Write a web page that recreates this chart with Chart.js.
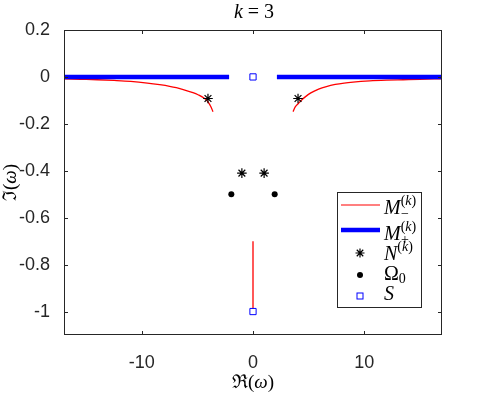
<!DOCTYPE html>
<html>
<head>
<meta charset="utf-8">
<script src="https://cdn.jsdelivr.net/npm/chart.js@4"></script>
<style>
  html, body { margin: 0; padding: 0; background: #fff; }
  canvas { display: block; }
</style>
</head>
<body>
<canvas id="chart" width="490" height="393"></canvas>
<script>
// axis ticks
var xTicks = [-10, 0, 10];
var xTickLabels = ['-10', '0', '10'];
var yTicks = [-1, -0.8, -0.6, -0.4, -0.2, 0, 0.2];
var yTickLabels = ['-1', '-0.8', '-0.6', '-0.4', '-0.2', '0', '0.2'];

// M_-^(k) branches (red)
var mMinusLeftRe  = [-17, -15.5, -14, -12.5, -11, -9.5, -8.4, -7.5, -6.9, -6.2, -5.4, -4.9, -4.5, -4.2, -4.0, -3.8, -3.6];
var mMinusLeftIm  = [-0.008, -0.010, -0.012, -0.015, -0.019, -0.026, -0.033, -0.040, -0.046, -0.055, -0.067, -0.077, -0.087, -0.098, -0.110, -0.126, -0.148];
var mMinusRightRe = [3.6, 3.8, 4.1, 4.4, 4.7, 5.2, 5.9, 6.6, 7.4, 8.2, 9.0, 10.5, 12, 13.5, 15, 17];
var mMinusRightIm = [-0.148, -0.128, -0.112, -0.097, -0.085, -0.068, -0.052, -0.041, -0.032, -0.026, -0.022, -0.017, -0.014, -0.012, -0.010, -0.008];
var mMinusVertRe  = [0, 0];
var mMinusVertIm  = [-0.7, -1];

// M_+^(k) (blue, on the real axis)
var mPlusLeftRe  = [-17, -2.15];
var mPlusLeftIm  = [0, 0];
var mPlusRightRe = [2.15, 17];
var mPlusRightIm = [0, 0];

// N^(k), Omega_0, S
var nRe = [-4.05, 4.05, -1.0, 1.0];
var nIm = [-0.092, -0.092, -0.41, -0.41];
var omegaRe = [-1.95, 1.95];
var omegaIm = [-0.5, -0.5];
var sRe = [0, 0];
var sIm = [0, -1];

function pts(xs, ys) {
    return xs.map(function(x, i) { return { x: x, y: ys[i] }; });
}

var AX = '#262626';
var SERIF = '"Liberation Serif", "DejaVu Serif", serif';

function drawRuns(ctx, runs, x, y, align) {
    var total = 0;
    runs.forEach(function(r) { ctx.font = r.font; r.w = ctx.measureText(r.t).width; total += r.w + (r.gap || 0); });
    var cx = align === 'center' ? x - total / 2 : x;
    runs.forEach(function(r) {
        ctx.font = r.font;
        ctx.fillText(r.t, cx + (r.dx || 0), y + (r.dy || 0));
        cx += r.w + (r.gap || 0);
    });
}

function drawStar(ctx, x, y, r) {
    var d = r * 0.72;
    ctx.beginPath();
    ctx.moveTo(x - r, y); ctx.lineTo(x + r, y);
    ctx.moveTo(x, y - r); ctx.lineTo(x, y + r);
    ctx.moveTo(x - d, y - d); ctx.lineTo(x + d, y + d);
    ctx.moveTo(x - d, y + d); ctx.lineTo(x + d, y - d);
    ctx.stroke();
}

var decor = {
    id: 'decor',
    afterDraw: function(chart) {
        var ctx = chart.ctx;
        var a = chart.chartArea;
        var xs = chart.scales.x, ys = chart.scales.y;
        ctx.save();
        ctx.strokeStyle = AX;
        ctx.lineWidth = 1;
        ctx.strokeRect(Math.round(a.left) + 0.5, Math.round(a.top) + 0.5,
                       Math.round(a.right - a.left) - 1, Math.round(a.bottom - a.top) - 1);
        ctx.beginPath();
        xTicks.forEach(function(v) {
            var px = Math.round(xs.getPixelForValue(v)) + 0.5;
            ctx.moveTo(px, a.bottom); ctx.lineTo(px, a.bottom - 4);
            ctx.moveTo(px, a.top); ctx.lineTo(px, a.top + 4);
        });
        yTicks.forEach(function(v) {
            var py = Math.round(ys.getPixelForValue(v)) + 0.5;
            ctx.moveTo(a.left, py); ctx.lineTo(a.left + 4, py);
            ctx.moveTo(a.right, py); ctx.lineTo(a.right - 4, py);
        });
        ctx.stroke();

        // title and axis labels
        ctx.fillStyle = '#000';
        ctx.textBaseline = 'middle';
        var cxp = (a.left + a.right) / 2;
        drawRuns(ctx, [
            { t: 'k', font: 'italic 20px ' + SERIF },
            { t: ' = 3', font: '20px ' + SERIF }
        ], cxp + 1, 13, 'center');
        drawRuns(ctx, [
            { t: '\u211C', font: '19px ' + SERIF },
            { t: '(', font: '19px ' + SERIF },
            { t: '\u03C9', font: 'italic 19px ' + SERIF },
            { t: ')', font: '19px ' + SERIF }
        ], cxp, 383, 'center');
        ctx.save();
        ctx.translate(11, (a.top + a.bottom) / 2);
        ctx.rotate(-Math.PI / 2);
        drawRuns(ctx, [
            { t: '\u2111', font: '19px ' + SERIF },
            { t: '(', font: '19px ' + SERIF },
            { t: '\u03C9', font: 'italic 19px ' + SERIF },
            { t: ')', font: '19px ' + SERIF }
        ], 0, 0, 'center');
        ctx.restore();

        // legend
        var lx = 337.5, ly = 192.5, lw = 84, lh = 115;
        ctx.fillStyle = '#fff';
        ctx.fillRect(lx, ly, lw, lh);
        ctx.strokeStyle = AX;
        ctx.lineWidth = 1;
        ctx.strokeRect(lx, ly, lw, lh);

        var symX0 = 341, symX1 = 380, symC = 360, tx = 384;
        ctx.strokeStyle = '#ff0000'; ctx.lineWidth = 1.2;
        ctx.beginPath(); ctx.moveTo(symX0, 205); ctx.lineTo(symX1, 205); ctx.stroke();
        ctx.strokeStyle = '#0000ff'; ctx.lineWidth = 4.5;
        ctx.beginPath(); ctx.moveTo(symX0, 230); ctx.lineTo(symX1, 230); ctx.stroke();
        ctx.strokeStyle = '#000'; ctx.lineWidth = 1.2;
        drawStar(ctx, symC, 253, 4.5);
        ctx.fillStyle = '#000';
        ctx.beginPath(); ctx.arc(symC, 275, 3, 0, Math.PI * 2); ctx.fill();
        ctx.strokeStyle = '#0000ff'; ctx.lineWidth = 1;
        ctx.strokeRect(symC - 3, 293, 6, 6);

        ctx.fillStyle = '#000';
        ctx.textBaseline = 'alphabetic';
        var big = 'italic 20px ' + SERIF, sm = '14px ' + SERIF, smi = 'italic 14px ' + SERIF;
        drawRuns(ctx, [
            { t: 'M', font: big, gap: 0 },
            { t: '(', font: sm, dy: -9 },
            { t: 'k', font: smi, dy: -9 },
            { t: ')', font: sm, dy: -9 }
        ], tx, 214, 'left');
        ctx.font = sm; ctx.fillText('\u2212', 401, 218);
        drawRuns(ctx, [
            { t: 'M', font: big },
            { t: '(', font: sm, dy: -9 },
            { t: 'k', font: smi, dy: -9 },
            { t: ')', font: sm, dy: -9 }
        ], tx, 240, 'left');
        ctx.font = sm; ctx.fillText('+', 401, 244);
        drawRuns(ctx, [
            { t: 'N', font: big },
            { t: '(', font: sm, dy: -9 },
            { t: 'k', font: smi, dy: -9 },
            { t: ')', font: sm, dy: -9 }
        ], tx, 260, 'left');
        drawRuns(ctx, [
            { t: '\u03A9', font: '20px ' + SERIF },
            { t: '0', font: sm, dy: 3 }
        ], tx, 280, 'left');
        drawRuns(ctx, [{ t: 'S', font: big }], tx, 300, 'left');
        ctx.restore();
    }
};

var ctx = document.getElementById('chart').getContext('2d');
new Chart(ctx, {
    type: 'scatter',
    data: {
        datasets: [
            { label: 'S', data: pts(sRe, sIm), order: 0, pointStyle: 'rect', pointRadius: 4.4,
              borderColor: '#0000ff', backgroundColor: '#ffffff', borderWidth: 1 },
            { label: 'Omega0', data: pts(omegaRe, omegaIm), order: 1, pointStyle: 'circle', pointRadius: 3,
              borderColor: '#000', backgroundColor: '#000', borderWidth: 0 },
            { label: 'N', data: pts(nRe, nIm), order: 2, pointStyle: 'star', pointRadius: 4.8,
              borderColor: '#000', backgroundColor: '#000', borderWidth: 1.2 },
            { label: 'M+ left', data: pts(mPlusLeftRe, mPlusLeftIm), order: 3, showLine: true, pointRadius: 0,
              borderColor: '#0000ff', borderWidth: 4.5, borderCapStyle: 'butt' },
            { label: 'M+ right', data: pts(mPlusRightRe, mPlusRightIm), order: 3, showLine: true, pointRadius: 0,
              borderColor: '#0000ff', borderWidth: 4.5, borderCapStyle: 'butt' },
            { label: 'M- left', data: pts(mMinusLeftRe, mMinusLeftIm), order: 4, showLine: true, pointRadius: 0,
              borderColor: '#ff0000', borderWidth: 1.3, cubicInterpolationMode: 'monotone' },
            { label: 'M- right', data: pts(mMinusRightRe, mMinusRightIm), order: 4, showLine: true, pointRadius: 0,
              borderColor: '#ff0000', borderWidth: 1.3, cubicInterpolationMode: 'monotone' },
            { label: 'M- vert', data: pts(mMinusVertRe, mMinusVertIm), order: 4, showLine: true, pointRadius: 0,
              borderColor: '#ff0000', borderWidth: 1.3 }
        ]
    },
    options: {
        responsive: false,
        animation: false,
        devicePixelRatio: 1,
        layout: { padding: { left: 0, right: 48, top: 30, bottom: 0 } },
        plugins: { legend: { display: false }, tooltip: { enabled: false }, title: { display: false } },
        scales: {
            x: {
                type: 'linear', min: -17, max: 17,
                grid: { display: false }, border: { display: false },
                afterFit: function(s) { s.height = 58; },
                afterBuildTicks: function(s) { s.ticks = xTicks.map(function(v) { return { value: v }; }); },
                ticks: {
                    color: AX, padding: 9, maxRotation: 0,
                    font: { family: '"Liberation Sans", Arial, sans-serif', size: 18 },
                    callback: function(v) { return xTickLabels[xTicks.indexOf(v)]; }
                }
            },
            y: {
                type: 'linear', min: -1.1, max: 0.2,
                grid: { display: false }, border: { display: false },
                afterFit: function(s) { s.width = 64; },
                afterBuildTicks: function(s) { s.ticks = yTicks.map(function(v) { return { value: v }; }); },
                ticks: {
                    color: AX, padding: 6,
                    font: { family: '"Liberation Sans", Arial, sans-serif', size: 18 },
                    callback: function(v) { return yTickLabels[yTicks.indexOf(v)]; }
                }
            }
        }
    },
    plugins: [decor]
});
</script>
</body>
</html>
